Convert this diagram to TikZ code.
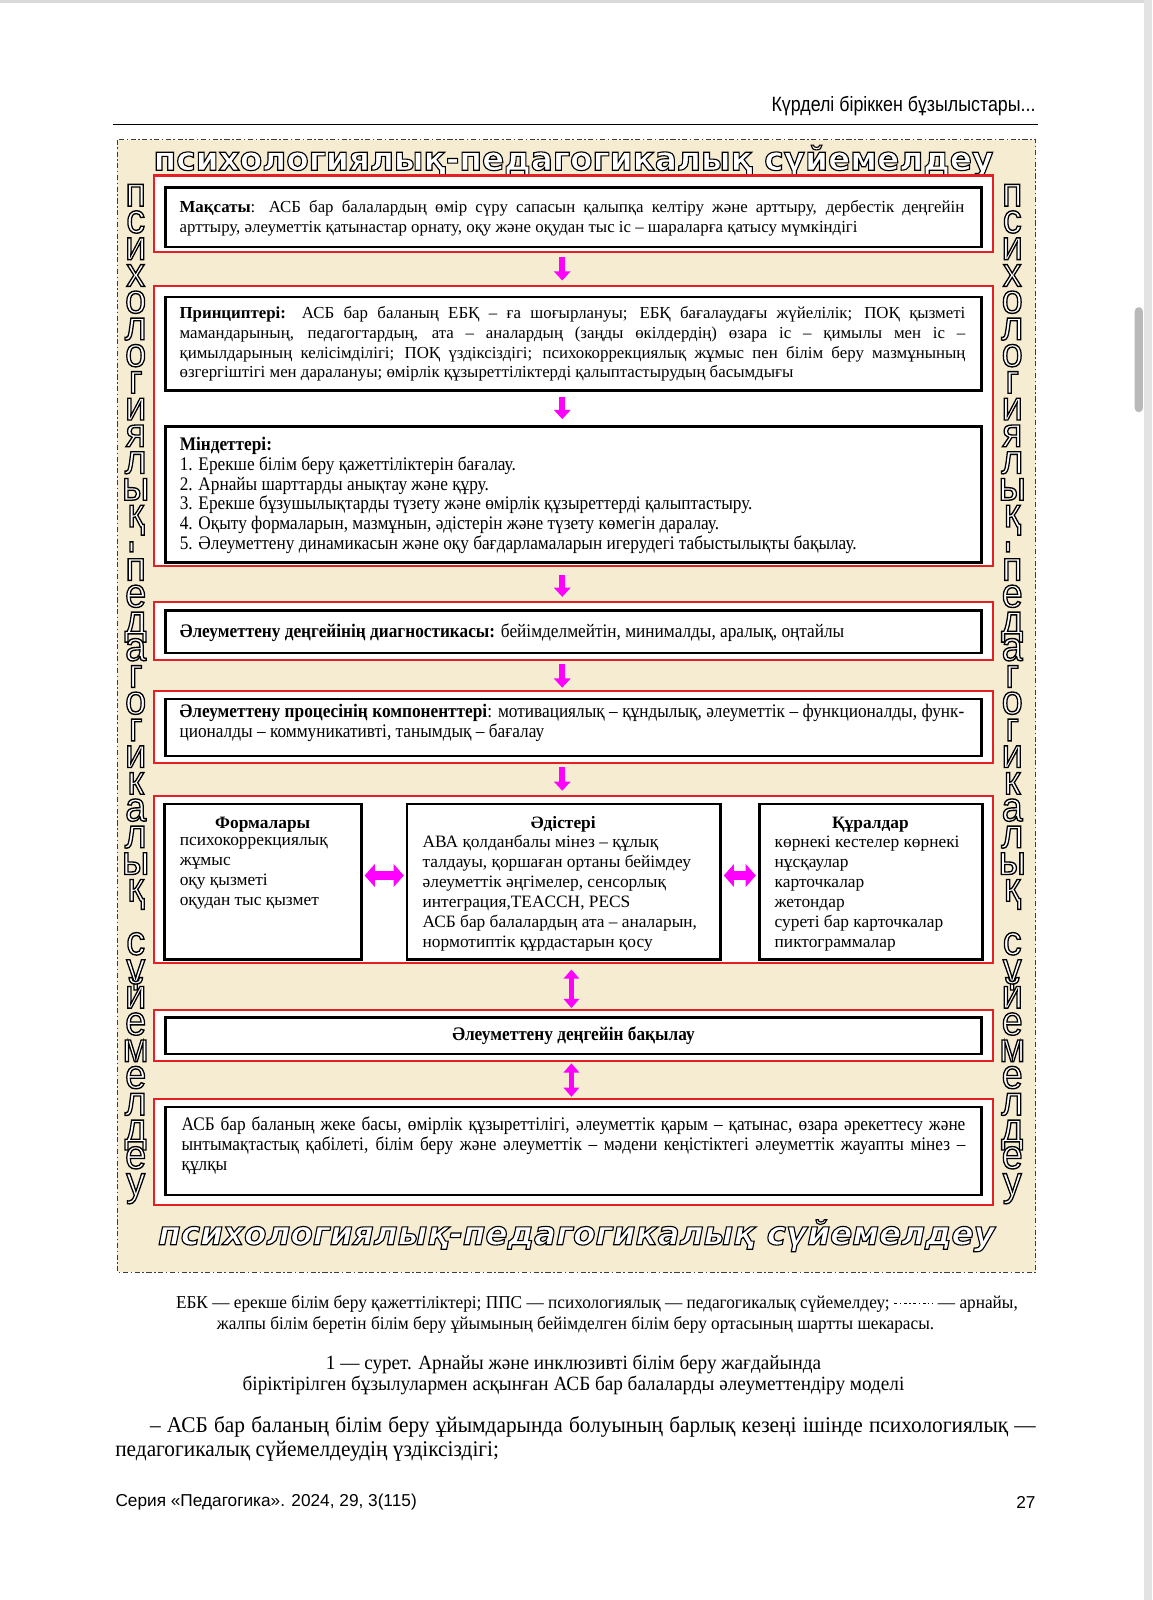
\documentclass[tikz,border=0pt]{standalone}
\usepackage{fontspec}
\setmainfont{Liberation Serif}
\newfontfamily\cserif[FakeStretch=0.9]{Liberation Serif}
\newfontfamily\mserif[FakeStretch=0.95]{Liberation Serif}
\newfontfamily\hsans{Liberation Sans}
\newfontfamily\nsans[FakeStretch=0.86]{Liberation Sans}
\newfontfamily\tfont{DejaVu Sans}
\usetikzlibrary{arrows.meta}
\definecolor{redline}{RGB}{228,32,36}
\definecolor{beige}{RGB}{246,236,210}
\definecolor{mag}{RGB}{255,0,255}
\definecolor{framegrey}{RGB}{60,60,60}
\newcommand{\outl}[1]{{\color{white}\special{pdf:literal direct 0 0 0 RG 2 Tr 1.1 w}#1\special{pdf:literal direct 0 Tr 0.4 w}}}
\newcommand{\vlet}[1]{\raisebox{0pt}[19pt][0pt]{\scalebox{1.12}[1.22]{\outl{#1}}}}
\tolerance=9999
\begin{document}
\begin{tikzpicture}[x=1pt,y=-1pt,
  redbox/.style={draw=redline, line width=2.2pt, fill=white, inner sep=0pt},
  blkbox/.style={draw=black, line width=2.6pt, fill=white, inner sep=0pt},
  body/.style={font=\fontsize{16.5}{19.5}\selectfont, align=justify, inner sep=0pt},
  cbody/.style={font=\cserif\fontsize{18.8}{19.5}\selectfont, align=justify, inner sep=0pt},
  col/.style={font=\fontsize{17}{19.5}\selectfont, align=left, inner sep=0pt, anchor=west},
  coltitle/.style={font=\bfseries\fontsize{17}{19.5}\selectfont, inner sep=0pt},
  vletter/.style={font=\hsans\fontsize{33}{33}\selectfont, inner sep=0pt, anchor=base},
  magdown/.style={draw=mag, line width=6pt, -{Triangle[width=16pt,length=9pt]}, shorten <=4pt, shorten >=4pt},
  magvv/.style={draw=mag, line width=5pt, {Triangle[width=15pt,length=9pt]}-{Triangle[width=15pt,length=9pt]}, shorten <=5pt, shorten >=1pt},
  maghh/.style={draw=mag, line width=8pt, {Triangle[width=22pt,length=10pt]}-{Triangle[width=22pt,length=10pt]}, shorten <=2pt, shorten >=2pt},
  frame/.style={draw=framegrey, line width=1.2pt, dash pattern=on 5pt off 2.5pt on 1.5pt off 2.5pt}
]
\useasboundingbox (0,0) rectangle (1129,1568);
\fill[white] (0,0) rectangle (1129,1568);
\fill[gray!30] (0,0) rectangle (1129,3);
\fill[gray!22] (1121,0) rectangle (1129,1568);
\fill[gray!55, rounded corners=4pt] (1112,301) rectangle (1120,404);

% header
\node[anchor=base east, inner sep=0pt, font=\nsans\fontsize{20.3}{22}\selectfont] (hdr) at (1015,109) {Күрделі біріккен бұзылыстары...};
\draw[line width=1.8pt] (111,122) -- (1017,122);

% frame
\draw[frame, fill=beige] (115,137) rectangle (1015,1247);

% titles
\node[inner sep=0pt] (ttop) at (562,158) {\resizebox{823pt}{!}{\tfont\bfseries\fontsize{32}{32}\selectfont\outl{психологиялық-педагогикалық сүйемелдеу}}};
\node[inner sep=0pt] (tbot) at (565,1211) {\resizebox{820pt}{!}{\tfont\bfseries\itshape\fontsize{32}{32}\selectfont\outl{психологиялық-педагогикалық сүйемелдеу}}};

% vertical letters
\foreach \ch [count=\i from 0] in {п,с,и,х,о,л,о,г,и,я,л,ы,қ,\rotatebox{90}{-},п,е,д,а,г,о,г,и,к,а,л,ы,қ,{},с,ү,й,е,м,е,л,д,е,у} {
  \node[vletter] (vl\i) at (133,202+26.2*\i) {\vlet{\ch}};
  \node[vletter] (vr\i) at (992,202+26.2*\i) {\vlet{\ch}};
}

% boxes
\node[redbox, minimum width=822pt, minimum height=75pt] (r1) at (562,209.5) {};
\node[blkbox, minimum width=800pt, minimum height=58pt] (b1) at (562,213) {};
\node[body, text width=769pt] (t1) at (560.5,213.5) {\textbf{Мақсаты}: АСБ бар балалардың өмір сүру сапасын қалыпқа келтіру және арттыру, дербестік деңгейін\linebreak арттыру, әлеуметтік қатынастар орнату, оқу және оқудан тыс іс – шараларға қатысу мүмкіндігі};

\node[redbox, minimum width=822pt, minimum height=275pt] (r2) at (562,417.5) {};
\node[blkbox, minimum width=800pt, minimum height=92pt] (bP) at (562,337) {};
\node[body, text width=770pt] (tP) at (561,337) {\textbf{Принциптері:} АСБ бар баланың ЕБҚ – ға шоғырлануы; ЕБҚ бағалаудағы жүйелілік; ПОҚ қызметі\linebreak мамандарының, педагогтардың, ата – аналардың (заңды өкілдердің) өзара іс – қимылы мен іс –\linebreak қимылдарының келісімділігі; ПОҚ үздіксіздігі; психокоррекциялық жұмыс пен білім беру мазмұнының\linebreak өзгергіштігі мен даралануы; өмірлік құзыреттіліктерді қалыптастырудың басымдығы};
\node[blkbox, minimum width=800pt, minimum height=133pt] (bT) at (562,484.5) {};
\node[cbody, align=left, anchor=west] (tT) at (176,485.5) {\textbf{Міндеттері:}\\1. Ерекше білім беру қажеттіліктерін бағалау.\\2. Арнайы шарттарды анықтау және құру.\\3. Ерекше бұзушылықтарды түзету және өмірлік құзыреттерді қалыптастыру.\\4. Оқыту формаларын, мазмұнын, әдістерін және түзету көмегін даралау.\\5. Әлеуметтену динамикасын және оқу бағдарламаларын игерудегі табыстылықты бақылау.};

\node[redbox, minimum width=822pt, minimum height=57pt] (r3) at (562,618.5) {};
\node[blkbox, minimum width=800pt, minimum height=42pt] (b3) at (562,619) {};
\node[cbody, anchor=west] (t3) at (176,620) {\textbf{Әлеуметтену деңгейінің диагностикасы:} бейімделмейтін, минималды, аралық, оңтайлы};

\node[redbox, minimum width=822pt, minimum height=71pt] (r4) at (562,712.5) {};
\node[blkbox, minimum width=800pt, minimum height=56pt] (b4) at (562,713) {};
\node[cbody, text width=769pt] (t4) at (560.5,708.5) {\textbf{Әлеуметтену процесінің компоненттері}: мотивациялық – құндылық, әлеуметтік – функционалды, функ-\linebreak ционалды – коммуникативті, танымдық – бағалау};

\node[redbox, minimum width=822pt, minimum height=164pt] (r5) at (562,862) {};
\node[blkbox, minimum width=193pt, minimum height=152pt] (bF) at (257.5,864) {};
\node[blkbox, minimum width=307pt, minimum height=152pt] (bM) at (552.5,864) {};
\node[blkbox, minimum width=219pt, minimum height=152pt] (bK) at (853.5,864) {};
\node[coltitle] (hF) at (257.5,808) {Формалары};
\node[col] (tF) at (176,856) {психокоррекциялық\\жұмыс\\оқу қызметі\\оқудан тыс қызмет};
\node[coltitle] (hM) at (552,808) {Әдістері};
\node[col] (tM) at (414,875.5) {АВА қолданбалы мінез – құлық\\талдауы, қоршаған ортаны бейімдеу\\әлеуметтік әңгімелер, сенсорлық\\интеграция,TEACCH, PECS\\АСБ бар балалардың ата – аналарын,\\нормотиптік құрдастарын қосу};
\node[coltitle] (hK) at (853,808) {Құралдар};
\node[col] (tK) at (759,875.5) {көрнекі кестелер көрнекі\\нұсқаулар\\карточкалар\\жетондар\\суреті бар карточкалар\\пиктограммалар};

\node[redbox, minimum width=822pt, minimum height=50pt] (r6) at (562,1015) {};
\node[blkbox, minimum width=800pt, minimum height=36pt] (b6) at (562,1015) {};
\node[cbody, font=\cserif\bfseries\fontsize{18.8}{19.5}\selectfont] (t6) at (562,1015) {Әлеуметтену деңгейін бақылау};

\node[redbox, minimum width=822pt, minimum height=104pt] (r7) at (562,1129) {};
\node[blkbox, minimum width=800pt, minimum height=86pt] (b7) at (562,1128) {};
\node[cbody, text width=768pt] (t7) at (562,1122.5) {АСБ бар баланың жеке басы, өмірлік құзыреттілігі, әлеуметтік қарым – қатынас, өзара әрекеттесу және\linebreak ынтымақтастық қабілеті, білім беру және әлеуметтік – мәдени кеңістіктегі әлеуметтік жауапты мінез –\linebreak құлқы};

% arrows
\draw[magdown] ([xshift=-11pt]r1.south) -- ([xshift=-11pt]r2.north);
\draw[magdown, shorten <=5pt, shorten >=6pt] ([xshift=-11pt]bP.south) -- ([xshift=-11pt]bT.north);
\draw[magdown, shorten <=7pt] ([xshift=-11pt]r2.south) -- ([xshift=-11pt]r3.north);
\draw[magdown, shorten <=3pt, shorten >=2pt] ([xshift=-11pt]r3.south) -- ([xshift=-11pt]r4.north);
\draw[magdown, shorten <=3pt] ([xshift=-11pt]r4.south) -- ([xshift=-11pt]r5.north);
\draw[maghh] ([yshift=6pt]bF.east) -- ([yshift=6pt]bM.west);
\draw[maghh] ([yshift=6pt]bM.east) -- ([yshift=6pt]bK.west);
\draw[magvv] ([xshift=-2pt]r5.south) -- ([xshift=-2pt]r6.north);
\draw[magvv, shorten <=1pt] ([xshift=-2pt]r6.south) -- ([xshift=-2pt]r7.north);

% notes below
\node[inner sep=0pt, font=\mserif\fontsize{17.8}{20}\selectfont] (fn1) at (585,1278) {ЕБК — ерекше білім беру қажеттіліктері; ППС — психологиялық — педагогикалық сүйемелдеу; \tikz[baseline=-0.6ex]\draw[line width=0.9pt, dash pattern=on 3pt off 2.5pt on 1.2pt off 2.5pt] (0pt,0pt) -- (38pt,0pt); — арнайы,};
\node[inner sep=0pt, font=\mserif\fontsize{17.8}{20}\selectfont] (fn2) at (564,1298) {жалпы білім беретін білім беру ұйымының бейімделген білім беру ортасының шартты шекарасы.};
\node[inner sep=0pt, font=\mserif\fontsize{19.8}{21}\selectfont] (cap1) at (562,1337) {1 — сурет. Арнайы және инклюзивті білім беру жағдайында};
\node[inner sep=0pt, font=\mserif\fontsize{19.8}{21}\selectfont] (cap2) at (562,1358) {біріктірілген бұзылулармен асқынған АСБ бар балаларды әлеуметтендіру моделі};
\node[inner sep=0pt, text width=902pt, align=justify, font=\mserif\fontsize{22}{24}\selectfont] (par) at (564,1410) {\hspace*{34pt}– АСБ бар баланың білім беру ұйымдарында болуының барлық кезеңі ішінде психологиялық —\linebreak педагогикалық сүйемелдеудің үздіксіздігі;};
\node[anchor=west, inner sep=0pt, font=\hsans\fontsize{16.9}{20}\selectfont] (foot) at (113,1472) {Серия «Педагогика». 2024, 29, 3(115)};
\node[anchor=east, inner sep=0pt, font=\hsans\fontsize{16.9}{20}\selectfont] (pg) at (1015,1472) {27};
\end{tikzpicture}
\end{document}
